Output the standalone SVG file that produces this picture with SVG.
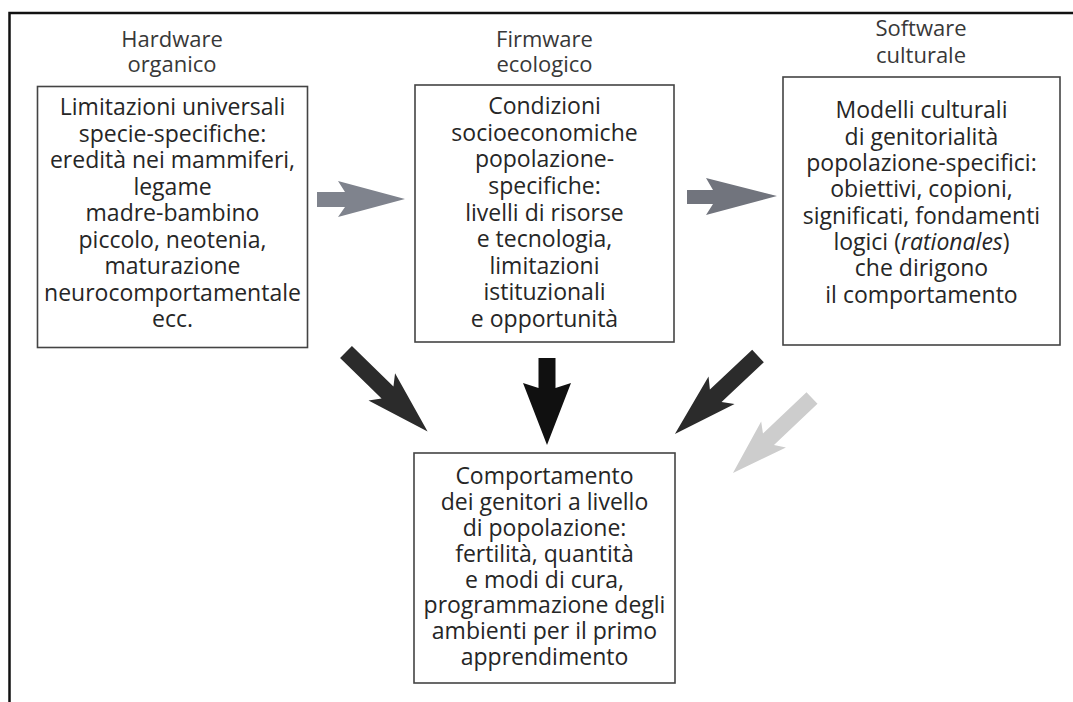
<svg xmlns="http://www.w3.org/2000/svg" width="1073" height="702" viewBox="0 0 1073 702">
<style>
.frame{fill:none;stroke:#111;stroke-width:2.5}
.box{fill:#fff;stroke:#444;stroke-width:1.6}
.t{font-family:"Open Sans","Noto Sans",sans-serif;font-size:23px;fill:#262626;text-anchor:middle}
.h{font-family:"Open Sans","Noto Sans",sans-serif;font-size:22px;fill:#383838;text-anchor:middle}
.gray1{fill:#7f838d}
.gray2{fill:#71747d}
.dark{fill:#2b2b2b}
.black{fill:#101010}
.light{fill:#cdcdcd}
</style>
<defs>
<polygon id="diag" points="0,-8.5 58,-8.5 50,-19 114,0 50,19 58,8.5 0,8.5"/>
<polygon id="diag2" points="0,-8 60,-8 53,-18 109,0 53,18 60,8 0,8"/>
</defs>
<rect width="1073" height="702" fill="#fff"/>
<path class="frame" d="M9.5,702 V13 H1073"/>

<g id="hardware">
<text class="h" x="172" y="47">Hardware</text>
<text class="h" x="172" y="72">organico</text>
<rect class="box" x="37.5" y="86.5" width="270" height="261"/>
<text class="t" x="172.5" y="115">Limitazioni universali</text>
<text class="t" x="172.5" y="141.5">specie-specifiche:</text>
<text class="t" x="172.5" y="168">eredità nei mammiferi,</text>
<text class="t" x="172.5" y="194.5">legame</text>
<text class="t" x="172.5" y="221">madre-bambino</text>
<text class="t" x="172.5" y="247.5">piccolo, neotenia,</text>
<text class="t" x="172.5" y="274">maturazione</text>
<text class="t" x="172.5" y="300.5">neurocomportamentale</text>
<text class="t" x="172.5" y="327">ecc.</text>
</g>

<g id="firmware">
<text class="h" x="544.5" y="47">Firmware</text>
<text class="h" x="544.5" y="72">ecologico</text>
<rect class="box" x="415" y="85" width="259" height="257"/>
<text class="t" x="544.5" y="114">Condizioni</text>
<text class="t" x="544.5" y="140.5">socioeconomiche</text>
<text class="t" x="544.5" y="167">popolazione-</text>
<text class="t" x="544.5" y="194">specifiche:</text>
<text class="t" x="544.5" y="220.5">livelli di risorse</text>
<text class="t" x="544.5" y="247">e tecnologia,</text>
<text class="t" x="544.5" y="273.5">limitazioni</text>
<text class="t" x="544.5" y="300">istituzionali</text>
<text class="t" x="544.5" y="327">e opportunità</text>
</g>

<g id="software">
<text class="h" x="921" y="36">Software</text>
<text class="h" x="921" y="63">culturale</text>
<rect class="box" x="783" y="77" width="277" height="268"/>
<text class="t" x="921.5" y="118">Modelli culturali</text>
<text class="t" x="921.5" y="144.5">di genitorialità</text>
<text class="t" x="921.5" y="171">popolazione-specifici:</text>
<text class="t" x="921.5" y="197">obiettivi, copioni,</text>
<text class="t" x="921.5" y="223.5">significati, fondamenti</text>
<text class="t" x="921.5" y="250">logici (<tspan font-style="italic">rationales</tspan>)</text>
<text class="t" x="921.5" y="276">che dirigono</text>
<text class="t" x="921.5" y="302.5">il comportamento</text>
</g>

<g id="comportamento">
<rect class="box" x="414" y="453" width="261" height="230"/>
<text class="t" x="544.5" y="484">Comportamento</text>
<text class="t" x="544.5" y="510">dei genitori a livello</text>
<text class="t" x="544.5" y="536">di popolazione:</text>
<text class="t" x="544.5" y="562">fertilità, quantità</text>
<text class="t" x="544.5" y="588">e modi di cura,</text>
<text class="t" x="544.5" y="613">programmazione degli</text>
<text class="t" x="544.5" y="639">ambienti per il primo</text>
<text class="t" x="544.5" y="665">apprendimento</text>
</g>

<g id="connectors">
<polygon class="gray1" points="317,192 345,192 338,181 405,199 338,217 345,207 317,207"/>
<polygon class="gray2" points="687,190 713,190 706,178 777,196 706,215 713,204 687,204"/>
<polygon class="black" points="538.5,358 555.5,358 555.5,388 571,383 547,445 523,383 538.5,388"/>
<use href="#diag" class="dark" transform="translate(346,352) rotate(44.3)"/>
<use href="#diag" class="dark" transform="translate(758,356) rotate(136.8)"/>
<use href="#diag2" class="light" transform="translate(812,398) rotate(136.5)"/>
</g>
</svg>
